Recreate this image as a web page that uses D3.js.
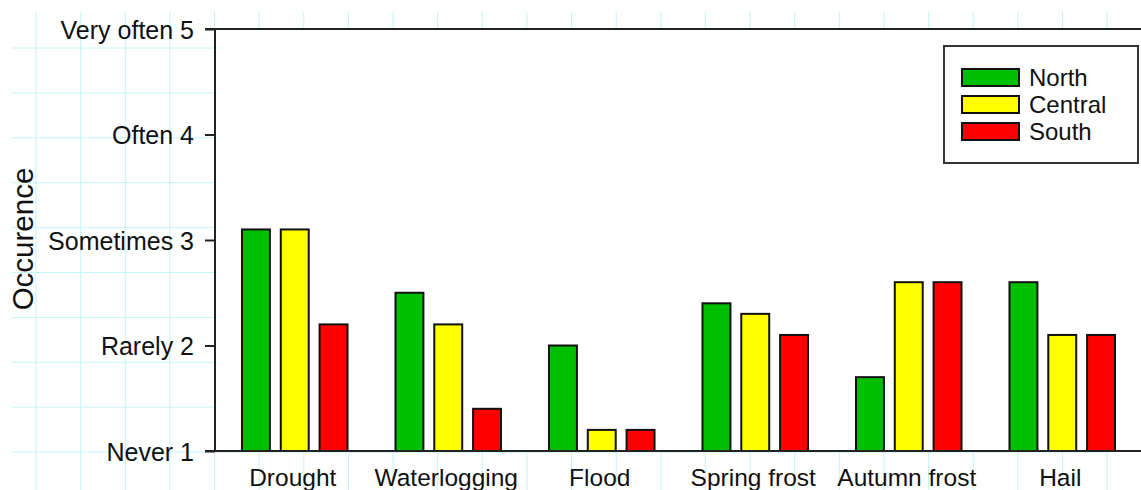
<!DOCTYPE html>
<html>
<head>
<meta charset="utf-8">
<script src="https://cdnjs.cloudflare.com/ajax/libs/d3/7.8.5/d3.min.js"></script>
<style>
  body { margin: 0; background: #fff; }
  svg { display: block; font-family: "Liberation Sans", Arial, sans-serif; }
</style>
</head>
<body>
<div id="the_chart"></div>
<script>
var categories = ["Drought", "Waterlogging", "Flood", "Spring frost", "Autumn frost", "Hail"];
var series = ["North", "Central", "South"];
var north = [3.1, 2.5, 2.0, 2.4, 1.7, 2.6];
var central = [3.1, 2.2, 1.2, 2.3, 2.6, 2.1];
var south = [2.2, 1.4, 1.2, 2.1, 2.6, 2.1];
var yTicks = [1, 2, 3, 4, 5];
var yTickLabels = ["Never 1", "Rarely 2", "Sometimes 3", "Often 4", "Very often 5"];
var colors = ["#00bf00", "#ffff00", "#ff0000"];

var values = [north, central, south];

var w = 1141;
var h = 490;

var svg = d3.select("#the_chart")
    .append("svg")
    .attr("width", w)
    .attr("height", h);

// graph paper background
var grid = svg.append("g").attr("stroke", "#c6f3f7").attr("stroke-width", 1);
grid.selectAll("line.v")
    .data(d3.range(36, 1110, 44.63))
    .enter().append("line")
    .attr("x1", function (d) { return d; })
    .attr("x2", function (d) { return d; })
    .attr("y1", 12)
    .attr("y2", h);
grid.selectAll("line.h")
    .data(d3.range(48, h, 44.9))
    .enter().append("line")
    .attr("x1", 12)
    .attr("x2", 1110)
    .attr("y1", function (d) { return d; })
    .attr("y2", function (d) { return d; });

var pLeft = 215, pTop = 29, pBottom = 451, pRight = 1141;

// white plot area
svg.append("rect")
    .attr("x", pLeft)
    .attr("y", pTop)
    .attr("width", pRight - pLeft + 5)
    .attr("height", pBottom - pTop)
    .attr("fill", "#fff");

var yscale = d3.scaleLinear()
    .domain([1, 5])
    .range([pBottom, pTop]);

var xscale = d3.scaleBand()
    .domain(categories)
    .range([218, 1139]);

var xsub = d3.scaleBand()
    .domain(series)
    .range([-58.2, 58.2])
    .paddingInner(0.28)
    .paddingOuter(0.14);

// bars
series.forEach(function (s, si) {
    svg.append("g").selectAll("rect")
        .data(values[si])
        .enter().append("rect")
        .attr("x", function (d, i) {
            return xscale(categories[i]) + xscale.bandwidth() / 2 + xsub(s);
        })
        .attr("y", function (d) { return yscale(d); })
        .attr("width", xsub.bandwidth())
        .attr("height", function (d) { return pBottom - yscale(d); })
        .attr("fill", colors[si])
        .attr("stroke", "#111")
        .attr("stroke-width", 2);
});

// y axis
var yaxis = d3.axisLeft(yscale)
    .tickValues(yTicks)
    .tickSize(10)
    .tickPadding(11)
    .tickFormat(function (d, i) { return yTickLabels[i]; });

var gy = svg.append("g")
    .attr("transform", "translate(" + pLeft + ",0)")
    .call(yaxis);
gy.select(".domain").remove();
gy.selectAll(".tick line").attr("stroke", "#222").attr("stroke-width", 2);
gy.selectAll(".tick text")
    .attr("fill", "#111")
    .style("font-size", "25px")
    .attr("dy", "0.36em");

// axis frame lines
svg.append("line")
    .attr("x1", pLeft).attr("x2", pLeft)
    .attr("y1", pTop - 1).attr("y2", pBottom + 1)
    .attr("stroke", "#222").attr("stroke-width", 2);
svg.append("line")
    .attr("x1", pLeft - 10).attr("x2", pRight)
    .attr("y1", pTop).attr("y2", pTop)
    .attr("stroke", "#222").attr("stroke-width", 2);
svg.append("line")
    .attr("x1", pLeft - 10).attr("x2", pRight)
    .attr("y1", pBottom).attr("y2", pBottom)
    .attr("stroke", "#222").attr("stroke-width", 2);

// x labels
svg.append("g").selectAll("text")
    .data(categories)
    .enter().append("text")
    .attr("x", function (d) { return xscale(d) + xscale.bandwidth() / 2 - 2; })
    .attr("y", 486)
    .attr("text-anchor", "middle")
    .attr("fill", "#111")
    .style("font-size", "24.5px")
    .text(function (d) { return d; });

// y title
svg.append("text")
    .attr("transform", "translate(33,239) rotate(-90)")
    .attr("text-anchor", "middle")
    .attr("fill", "#111")
    .style("font-size", "29.5px")
    .text("Occurence");

// legend
var legend = svg.append("g");
legend.append("rect")
    .attr("x", 944).attr("y", 46)
    .attr("width", 194).attr("height", 117)
    .attr("fill", "#fff")
    .attr("stroke", "#333")
    .attr("stroke-width", 2);
var items = legend.selectAll("g.item")
    .data(series)
    .enter().append("g")
    .attr("transform", function (d, i) { return "translate(962," + (69 + i * 27) + ")"; });
items.append("rect")
    .attr("width", 57).attr("height", 17)
    .attr("fill", function (d, i) { return colors[i]; })
    .attr("stroke", "#111")
    .attr("stroke-width", 2);
items.append("text")
    .attr("x", 67).attr("y", 17)
    .attr("fill", "#111")
    .style("font-size", "24px")
    .text(function (d) { return d; });
</script>
</body>
</html>
